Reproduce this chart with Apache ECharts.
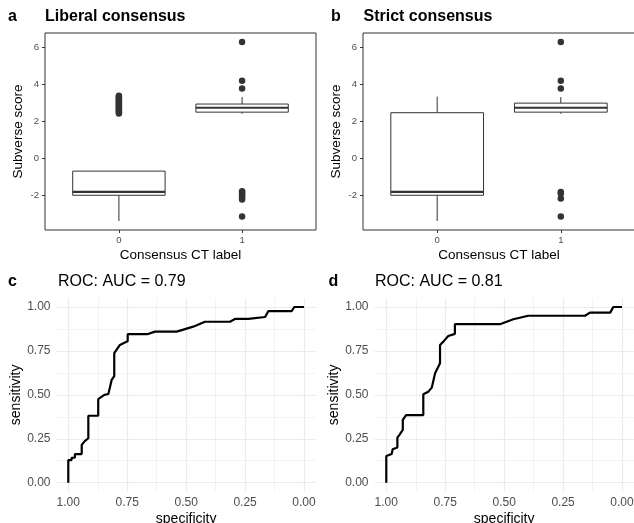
<!DOCTYPE html>
<html>
<head>
<meta charset="utf-8">
<script src="https://cdn.jsdelivr.net/npm/echarts@6/dist/echarts.min.js"></script>
<style>
  html, body { margin: 0; padding: 0; background: #fff; }
  #chart { width: 634px; height: 523px; }
</style>
</head>
<body>
<div id="chart"></div>
<script>
// box stats per panel: [group, lower whisker, Q1, median, Q3, upper whisker]
const liberalBoxes = [
  [0, -3.42, -2.02, -1.84, -0.71, -0.71],
  [1, 2.40, 2.49, 2.73, 2.93, 3.31]
];
const strictBoxes = [
  [0, -3.42, -2.02, -1.84, 2.46, 3.33],
  [1, 2.40, 2.49, 2.73, 2.98, 3.31]
];
const liberalOutliers = [
  [0, 2.42], [0, 2.48], [0, 2.55], [0, 2.6], [0, 2.66], [0, 2.72], [0, 2.78], [0, 2.84],
  [0, 2.9], [0, 2.96], [0, 3.02], [0, 3.08], [0, 3.14], [0, 3.2], [0, 3.26], [0, 3.32], [0, 3.38],
  [1, 6.3], [1, 4.2], [1, 3.78],
  [1, -1.8], [1, -1.88], [1, -1.96], [1, -2.05], [1, -2.15], [1, -2.25], [1, -3.17]
];
const strictOutliers = [
  [1, 6.3], [1, 4.2], [1, 3.78],
  [1, -1.84], [1, -1.92], [1, -2.2], [1, -3.17]
];
const groupLabels = ['0', '1'];
const scoreTicks = [-2, 0, 2, 4, 6];

// ROC curves: [specificity, sensitivity]
const rocLiberal = [
  [1, 0], [1, 0.129], [0.986, 0.129], [0.986, 0.142], [0.972, 0.142], [0.972, 0.163],
  [0.943, 0.163], [0.943, 0.215], [0.93, 0.237], [0.915, 0.253], [0.915, 0.381],
  [0.873, 0.381], [0.873, 0.476], [0.858, 0.49], [0.847, 0.5], [0.83, 0.505],
  [0.816, 0.585], [0.805, 0.607], [0.805, 0.737], [0.781, 0.784], [0.762, 0.797],
  [0.748, 0.805], [0.748, 0.845], [0.665, 0.845], [0.632, 0.86], [0.54, 0.86],
  [0.47, 0.888], [0.42, 0.916], [0.314, 0.916], [0.293, 0.932], [0.236, 0.932],
  [0.236, 0.943], [0.165, 0.943], [0.151, 0.977], [0.052, 0.977], [0.041, 1], [0, 1]
];
const rocStrict = [
  [1, 0], [1, 0.152], [0.977, 0.163], [0.973, 0.19], [0.953, 0.2], [0.953, 0.256],
  [0.945, 0.271], [0.93, 0.3], [0.93, 0.357], [0.916, 0.385], [0.843, 0.385],
  [0.843, 0.503], [0.822, 0.518], [0.807, 0.541], [0.793, 0.623], [0.772, 0.68],
  [0.772, 0.784], [0.758, 0.803], [0.737, 0.835], [0.709, 0.847], [0.709, 0.902],
  [0.518, 0.902], [0.461, 0.93], [0.398, 0.95], [0.157, 0.95], [0.136, 0.968],
  [0.05, 0.968], [0.037, 1], [0, 1]
];
const rocTicks = [0, 0.25, 0.5, 0.75, 1];
const rocMinorTicks = [0.125, 0.375, 0.625, 0.875];

const FONT = 'Liberation Sans, Arial, sans-serif';
const DARK = '#333333';
const TICK_GREY = '#4D4D4D';
const BOX_WIDTH = 0.75;

// ggplot-like 5% expansion of the score axis
const allScores = liberalBoxes.concat(strictBoxes).flatMap(r => r.slice(1))
  .concat(liberalOutliers.concat(strictOutliers).map(p => p[1]));
const sMin = Math.min(...allScores), sMax = Math.max(...allScores);
const sPad = (sMax - sMin) * 0.05;

const chart = echarts.init(document.getElementById('chart'));

function renderBox(params, api) {
  const x = api.value(0);
  const lo = api.coord([x, api.value(1)]);
  const q1 = api.coord([x, api.value(2)]);
  const md = api.coord([x, api.value(3)]);
  const q3 = api.coord([x, api.value(4)]);
  const hi = api.coord([x, api.value(5)]);
  const half = api.size([BOX_WIDTH, 0])[0] / 2;
  const cx = lo[0];
  const st = { stroke: DARK, lineWidth: 1 };
  return {
    type: 'group',
    children: [
      { type: 'line', shape: { x1: cx, y1: hi[1], x2: cx, y2: q3[1] }, style: st },
      { type: 'line', shape: { x1: cx, y1: q1[1], x2: cx, y2: lo[1] }, style: st },
      { type: 'rect', shape: { x: cx - half, y: q3[1], width: half * 2, height: q1[1] - q3[1] },
        style: { fill: '#fff', stroke: DARK, lineWidth: 1 } },
      { type: 'line', shape: { x1: cx - half, y1: md[1], x2: cx + half, y2: md[1] },
        style: { stroke: DARK, lineWidth: 2.2 } }
    ]
  };
}

function boxXAxis(gi) {
  return {
    type: 'value', gridIndex: gi, position: 'bottom', min: -0.6, max: 1.6,
    name: 'Consensus CT label', nameLocation: 'middle', nameGap: 18,
    nameTextStyle: { fontSize: 13.5, color: '#000' },
    axisLine: { show: false, onZero: false },
    axisTick: { show: true, length: 3, lineStyle: { color: DARK }, customValues: [0, 1] },
    axisLabel: { customValues: [0, 1], formatter: v => groupLabels[Math.round(v)],
      fontSize: 9.5, color: TICK_GREY, margin: 5 },
    splitLine: { show: false }
  };
}
function boxYAxis(gi) {
  return {
    type: 'value', gridIndex: gi, position: 'left', min: sMin - sPad, max: sMax + sPad,
    name: 'Subverse score', nameLocation: 'middle', nameGap: 20,
    nameTextStyle: { fontSize: 13.5, color: '#000' },
    axisLine: { show: false, onZero: false },
    axisTick: { show: true, length: 3, lineStyle: { color: DARK }, customValues: scoreTicks },
    axisLabel: { customValues: scoreTicks, fontSize: 9.5, color: TICK_GREY, margin: 6 },
    splitLine: { show: false }
  };
}
function rocXAxis(gi, minor) {
  const vals = minor ? rocMinorTicks : rocTicks;
  return {
    type: 'value', gridIndex: gi, position: 'bottom', offset: 0,
    min: -0.05, max: 1.05, inverse: true,
    name: minor ? '' : 'specificity', nameLocation: 'middle', nameGap: 21,
    nameTextStyle: { fontSize: 14, color: '#000' },
    axisLine: { show: false, onZero: false },
    axisTick: { show: false, customValues: vals },
    axisLabel: { show: !minor, customValues: vals, formatter: v => v.toFixed(2),
      fontSize: 12, color: TICK_GREY, margin: 5 },
    splitLine: { show: true, lineStyle: { color: '#EBEBEB', width: minor ? 0.6 : 1.2 } }
  };
}
function rocYAxis(gi, minor) {
  const vals = minor ? rocMinorTicks : rocTicks;
  return {
    type: 'value', gridIndex: gi, position: 'left', offset: 0,
    min: -0.05, max: 1.05,
    name: minor ? '' : 'sensitivity', nameLocation: 'middle', nameGap: 31,
    nameTextStyle: { fontSize: 14, color: '#000' },
    axisLine: { show: false, onZero: false },
    axisTick: { show: false, customValues: vals },
    axisLabel: { show: !minor, customValues: vals, formatter: v => v.toFixed(2),
      fontSize: 12, color: TICK_GREY, margin: 6 },
    splitLine: { show: true, lineStyle: { color: '#EBEBEB', width: minor ? 0.6 : 1.2 } }
  };
}

function label(x, y, text, font) {
  return { type: 'text', x: x, y: y,
    style: { text: text, font: font, fill: '#000', verticalAlign: 'middle' } };
}

const gridBase = { containLabel: false, outerBoundsMode: 'none' };

const option = {
  animation: false,
  textStyle: { fontFamily: FONT },
  grid: [
    Object.assign({ left: 45, top: 33, width: 271, height: 197, show: true,
      borderColor: DARK, borderWidth: 1 }, gridBase),
    Object.assign({ left: 363, top: 33, width: 272, height: 197, show: true,
      borderColor: DARK, borderWidth: 1 }, gridBase),
    Object.assign({ left: 56.5, top: 298.2, width: 259.3, height: 193.3 }, gridBase),
    Object.assign({ left: 374.5, top: 298.2, width: 259.3, height: 193.3 }, gridBase)
  ],
  xAxis: [
    boxXAxis(0), boxXAxis(1),
    rocXAxis(2, true), rocXAxis(2, false),
    rocXAxis(3, true), rocXAxis(3, false)
  ],
  yAxis: [
    boxYAxis(0), boxYAxis(1),
    rocYAxis(2, true), rocYAxis(2, false),
    rocYAxis(3, true), rocYAxis(3, false)
  ],
  graphic: [
    label(8, 17, 'a', 'bold 16px ' + FONT),
    label(45, 17, 'Liberal consensus', 'bold 16px ' + FONT),
    label(331, 17, 'b', 'bold 16px ' + FONT),
    label(363.5, 17, 'Strict consensus', 'bold 16px ' + FONT),
    label(8, 282, 'c', 'bold 16px ' + FONT),
    label(58, 282, 'ROC: AUC = 0.79', '16px ' + FONT),
    label(328.5, 282, 'd', 'bold 16px ' + FONT),
    label(375, 282, 'ROC: AUC = 0.81', '16px ' + FONT)
  ],
  series: [
    { type: 'custom', xAxisIndex: 0, yAxisIndex: 0, renderItem: renderBox,
      encode: { x: 0, y: [1, 2, 3, 4, 5] }, data: liberalBoxes },
    { type: 'scatter', xAxisIndex: 0, yAxisIndex: 0, data: liberalOutliers,
      symbolSize: 6.5, itemStyle: { color: DARK, opacity: 1 } },
    { type: 'custom', xAxisIndex: 1, yAxisIndex: 1, renderItem: renderBox,
      encode: { x: 0, y: [1, 2, 3, 4, 5] }, data: strictBoxes },
    { type: 'scatter', xAxisIndex: 1, yAxisIndex: 1, data: strictOutliers,
      symbolSize: 6.5, itemStyle: { color: DARK, opacity: 1 } },
    { type: 'line', xAxisIndex: 3, yAxisIndex: 3, data: rocLiberal, showSymbol: false,
      lineStyle: { color: '#000', width: 2.2 } },
    { type: 'line', xAxisIndex: 5, yAxisIndex: 5, data: rocStrict, showSymbol: false,
      lineStyle: { color: '#000', width: 2.2 } }
  ]
};

chart.setOption(option);
window.addEventListener('resize', () => chart.resize());
</script>
</body>
</html>
